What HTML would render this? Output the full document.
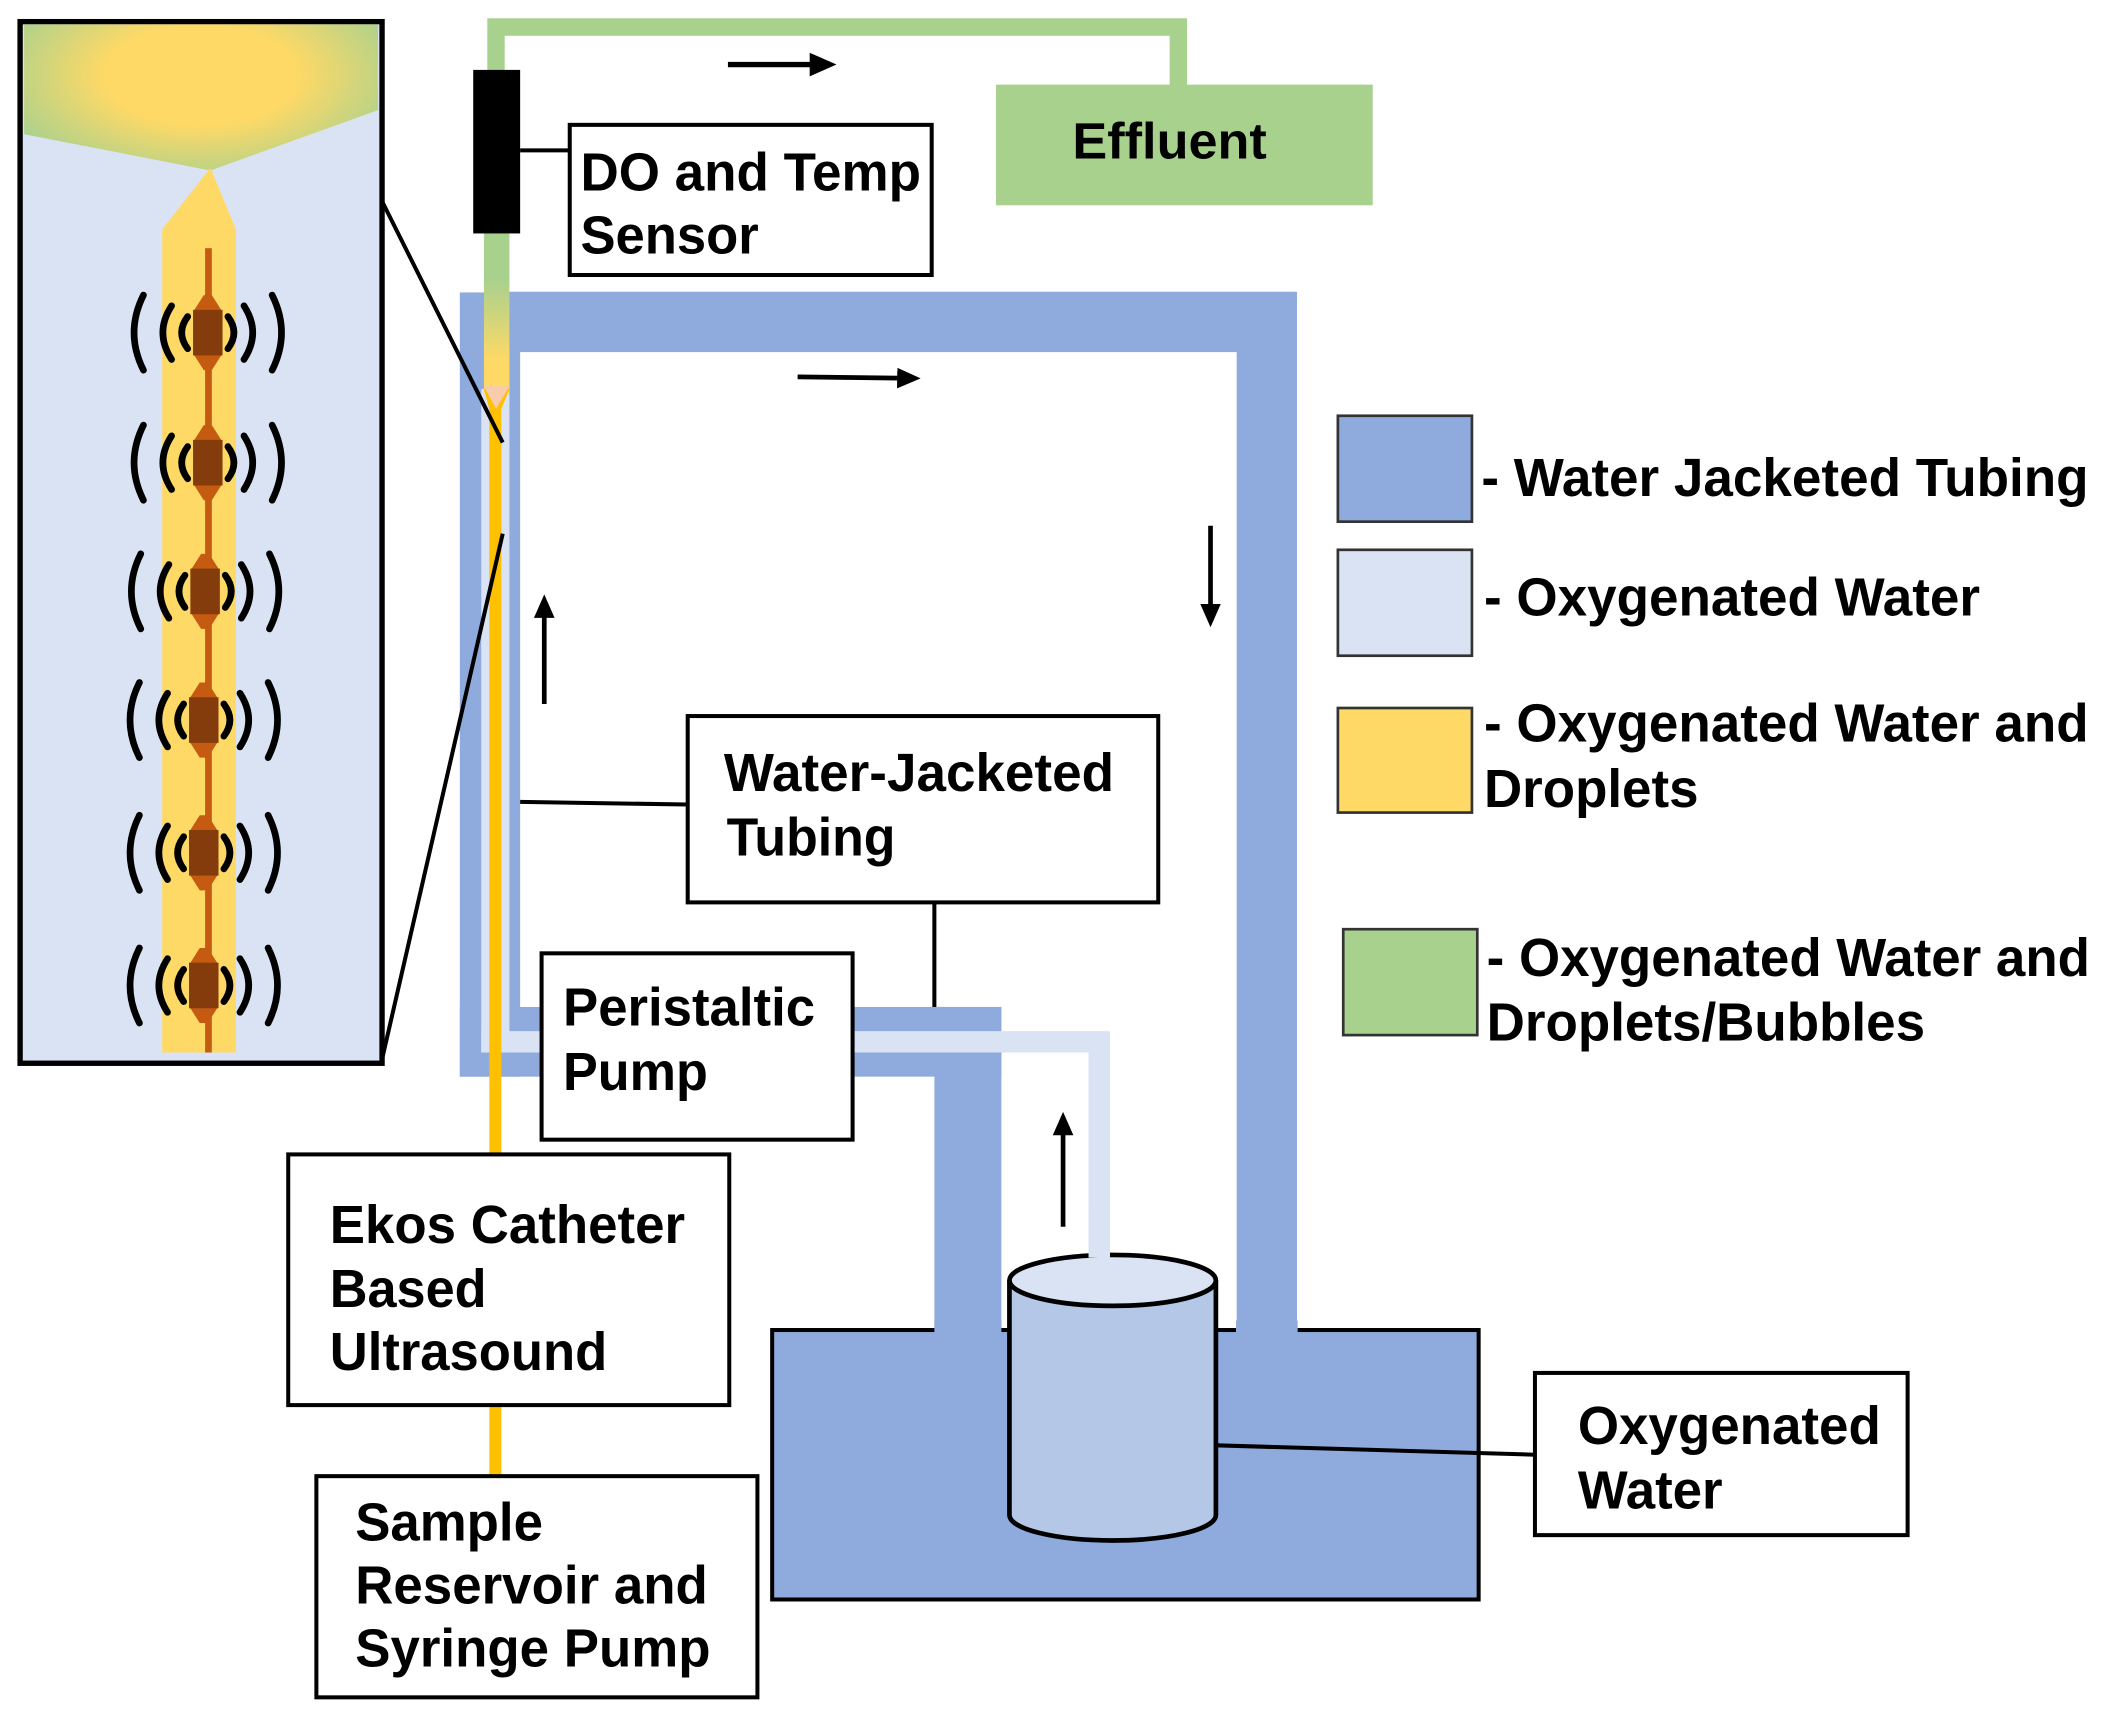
<!DOCTYPE html>
<html><head><meta charset="utf-8"><style>
html,body{margin:0;padding:0;background:#fff;}
svg{display:block;}
text{font-family:"Liberation Sans",Arial,sans-serif;font-weight:bold;fill:#000;}
</style></head><body>
<svg width="2102" height="1723" viewBox="0 0 1568 1285" xmlns="http://www.w3.org/2000/svg">
<defs>
<radialGradient id="cone" cx="0.5" cy="0.35" r="0.75" gradientTransform="translate(0.1,0) scale(0.8,1)">
<stop offset="0" stop-color="#ffd966"/><stop offset="0.45" stop-color="#ffd966"/><stop offset="1" stop-color="#a9d18e"/>
</radialGradient>
<linearGradient id="tube" x1="0" y1="0" x2="0" y2="1">
<stop offset="0" stop-color="#a9d18e"/><stop offset="0.3" stop-color="#a9d18e"/><stop offset="0.8" stop-color="#ffd966"/><stop offset="1" stop-color="#ffd966"/>
</linearGradient>
<g id="td">
<polygon points="-3,-28 3,-28 10,-17 10,17 3,28 -3,28 -10,17 -10,-17" fill="#c55a11"/>
<rect x="-11" y="-17" width="22" height="34" fill="#843c0c"/>
<g fill="none" stroke="#000" stroke-width="5" stroke-linecap="round">
<path d="M-15,-12 Q-24,0 -15,12"/><path d="M15,-12 Q24,0 15,12"/>
<path d="M-27,-20 Q-40,0 -27,20"/><path d="M27,-20 Q40,0 27,20"/>
<path d="M-48,-28 Q-62,0 -48,28"/><path d="M48,-28 Q62,0 48,28"/>
</g>
</g>
<marker id="ah" markerWidth="5" markerHeight="5" refX="2.5" refY="2.5" orient="auto" markerUnits="strokeWidth"><path d="M0,0.3 L5,2.5 L0,4.7z" fill="#000"/></marker>
</defs>

<!-- inset -->
<rect x="15" y="16" width="270" height="777" fill="#dae3f3" stroke="#000" stroke-width="4"/>
<polygon points="18,18 282,18 282,82 157,127 18,100" fill="url(#cone)"/>
<polygon points="157,125 176,171 176,785 121,785 121,171" fill="#ffd966"/>
<rect x="153" y="185" width="5" height="600" fill="#c55a11"/>
<use href="#td" x="155" y="248"/>
<use href="#td" x="155" y="345"/>
<use href="#td" x="153" y="441"/>
<use href="#td" x="152" y="537"/>
<use href="#td" x="152" y="636"/>
<use href="#td" x="152" y="735"/>

<!-- green effluent tubing -->
<path d="M370,175 V20 H879 V66" fill="none" stroke="#a9d18e" stroke-width="13"/>
<rect x="743" y="63" width="281" height="90" fill="#a9d18e"/>
<text x="800" y="118" font-size="38" textLength="145" lengthAdjust="spacingAndGlyphs">Effluent</text>
<line x1="543" y1="48" x2="614" y2="48" stroke="#000" stroke-width="4" marker-end="url(#ah)"/>

<!-- jacket -->
<path d="M365,240 H945 V993" fill="none" stroke="#8faadc" stroke-width="45"/>
<rect x="343" y="218" width="45" height="585" fill="#8faadc"/>
<rect x="343" y="751" width="404" height="52" fill="#8faadc"/>
<rect x="697" y="751" width="50" height="245" fill="#8faadc"/>
<rect x="359" y="290" width="21" height="495" fill="#dae3f3"/>
<polyline points="359,777 820,777 820,950" fill="none" stroke="#dae3f3" stroke-width="16"/>
<rect x="361" y="173" width="19" height="120" fill="url(#tube)"/>
<polygon points="361,290 380,290 374,305 374,1100 365,1100 365,305" fill="#ffc000"/>
<polygon points="361,288 380,288 370,305" fill="#f8cbad"/>

<!-- sensor -->
<rect x="353" y="52" width="35" height="122" fill="#000"/>
<line x1="388" y1="112" x2="425" y2="112" stroke="#000" stroke-width="3"/>
<rect x="425" y="93" width="270" height="112" fill="#fff" stroke="#000" stroke-width="3"/>
<text x="433" y="142" font-size="40" textLength="254" lengthAdjust="spacingAndGlyphs">DO and Temp</text>
<text x="433" y="189" font-size="40" textLength="133" lengthAdjust="spacingAndGlyphs">Sensor</text>

<line x1="285" y1="150" x2="375" y2="330" stroke="#000" stroke-width="3"/>
<line x1="285" y1="790" x2="375" y2="398" stroke="#000" stroke-width="3"/>

<!-- arrows -->
<line x1="595" y1="281" x2="678" y2="282" stroke="#000" stroke-width="3.5" marker-end="url(#ah)"/>
<line x1="406" y1="525" x2="406" y2="452" stroke="#000" stroke-width="3.5" marker-end="url(#ah)"/>
<line x1="903" y1="392" x2="903" y2="459" stroke="#000" stroke-width="3.5" marker-end="url(#ah)"/>
<line x1="793" y1="915" x2="793" y2="838" stroke="#000" stroke-width="3.5" marker-end="url(#ah)"/>

<line x1="388" y1="598" x2="513" y2="600" stroke="#000" stroke-width="3"/>
<line x1="697" y1="673" x2="697" y2="751" stroke="#000" stroke-width="3"/>
<rect x="513" y="534" width="351" height="139" fill="#fff" stroke="#000" stroke-width="3"/>
<text x="540" y="590" font-size="40" textLength="291" lengthAdjust="spacingAndGlyphs">Water-Jacketed</text>
<text x="542" y="638" font-size="40" textLength="126" lengthAdjust="spacingAndGlyphs">Tubing</text>

<rect x="404" y="711" width="232" height="139" fill="#fff" stroke="#000" stroke-width="3"/>
<text x="420" y="765" font-size="40" textLength="188" lengthAdjust="spacingAndGlyphs">Peristaltic</text>
<text x="420" y="813" font-size="40" textLength="108" lengthAdjust="spacingAndGlyphs">Pump</text>

<rect x="215" y="861" width="329" height="187" fill="#fff" stroke="#000" stroke-width="3"/>
<text x="246" y="927" font-size="40" textLength="265" lengthAdjust="spacingAndGlyphs">Ekos Catheter</text>
<text x="246" y="975" font-size="40" textLength="117" lengthAdjust="spacingAndGlyphs">Based</text>
<text x="246" y="1022" font-size="40" textLength="207" lengthAdjust="spacingAndGlyphs">Ultrasound</text>

<rect x="236" y="1101" width="329" height="165" fill="#fff" stroke="#000" stroke-width="3"/>
<text x="265" y="1149" font-size="40" textLength="140" lengthAdjust="spacingAndGlyphs">Sample</text>
<text x="265" y="1196" font-size="40" textLength="263" lengthAdjust="spacingAndGlyphs">Reservoir and</text>
<text x="265" y="1243" font-size="40" textLength="265" lengthAdjust="spacingAndGlyphs">Syringe Pump</text>

<!-- tank -->
<rect x="576" y="992" width="527" height="201" fill="#8faadc" stroke="#000" stroke-width="3"/>
<rect x="697" y="985" width="50" height="12" fill="#8faadc"/>
<rect x="922" y="985" width="46" height="12" fill="#8faadc"/>
<path d="M753,955 V1130 A77,19 0 0 0 907,1130 V955" fill="#b4c7e7" stroke="#000" stroke-width="3.5"/>
<ellipse cx="830" cy="955" rx="77" ry="19" fill="#dae3f3" stroke="#000" stroke-width="3.5"/>
<rect x="812" y="900" width="16" height="38" fill="#dae3f3"/>
<line x1="907" y1="1078" x2="1145" y2="1085" stroke="#000" stroke-width="3"/>
<rect x="1145" y="1024" width="278" height="121" fill="#fff" stroke="#000" stroke-width="3"/>
<text x="1177" y="1077" font-size="40" textLength="226" lengthAdjust="spacingAndGlyphs">Oxygenated</text>
<text x="1177" y="1125" font-size="40" textLength="108" lengthAdjust="spacingAndGlyphs">Water</text>

<!-- legend -->
<rect x="998" y="310" width="100" height="79" fill="#8faadc" stroke="#333" stroke-width="2"/>
<rect x="998" y="410" width="100" height="79" fill="#dae3f3" stroke="#333" stroke-width="2"/>
<rect x="998" y="528" width="100" height="78" fill="#ffd966" stroke="#333" stroke-width="2"/>
<rect x="1002" y="693" width="100" height="79" fill="#a9d18e" stroke="#333" stroke-width="2"/>
<text x="1105" y="370" font-size="40" textLength="453" lengthAdjust="spacingAndGlyphs">- Water Jacketed Tubing</text>
<text x="1107" y="459" font-size="40" textLength="370" lengthAdjust="spacingAndGlyphs">- Oxygenated Water</text>
<text x="1107" y="553" font-size="40" textLength="451" lengthAdjust="spacingAndGlyphs">- Oxygenated Water and</text>
<text x="1107" y="602" font-size="40" textLength="160" lengthAdjust="spacingAndGlyphs">Droplets</text>
<text x="1109" y="728" font-size="40" textLength="450" lengthAdjust="spacingAndGlyphs">- Oxygenated Water and</text>
<text x="1109" y="776" font-size="40" textLength="327" lengthAdjust="spacingAndGlyphs">Droplets/Bubbles</text>
</svg>
</body></html>
